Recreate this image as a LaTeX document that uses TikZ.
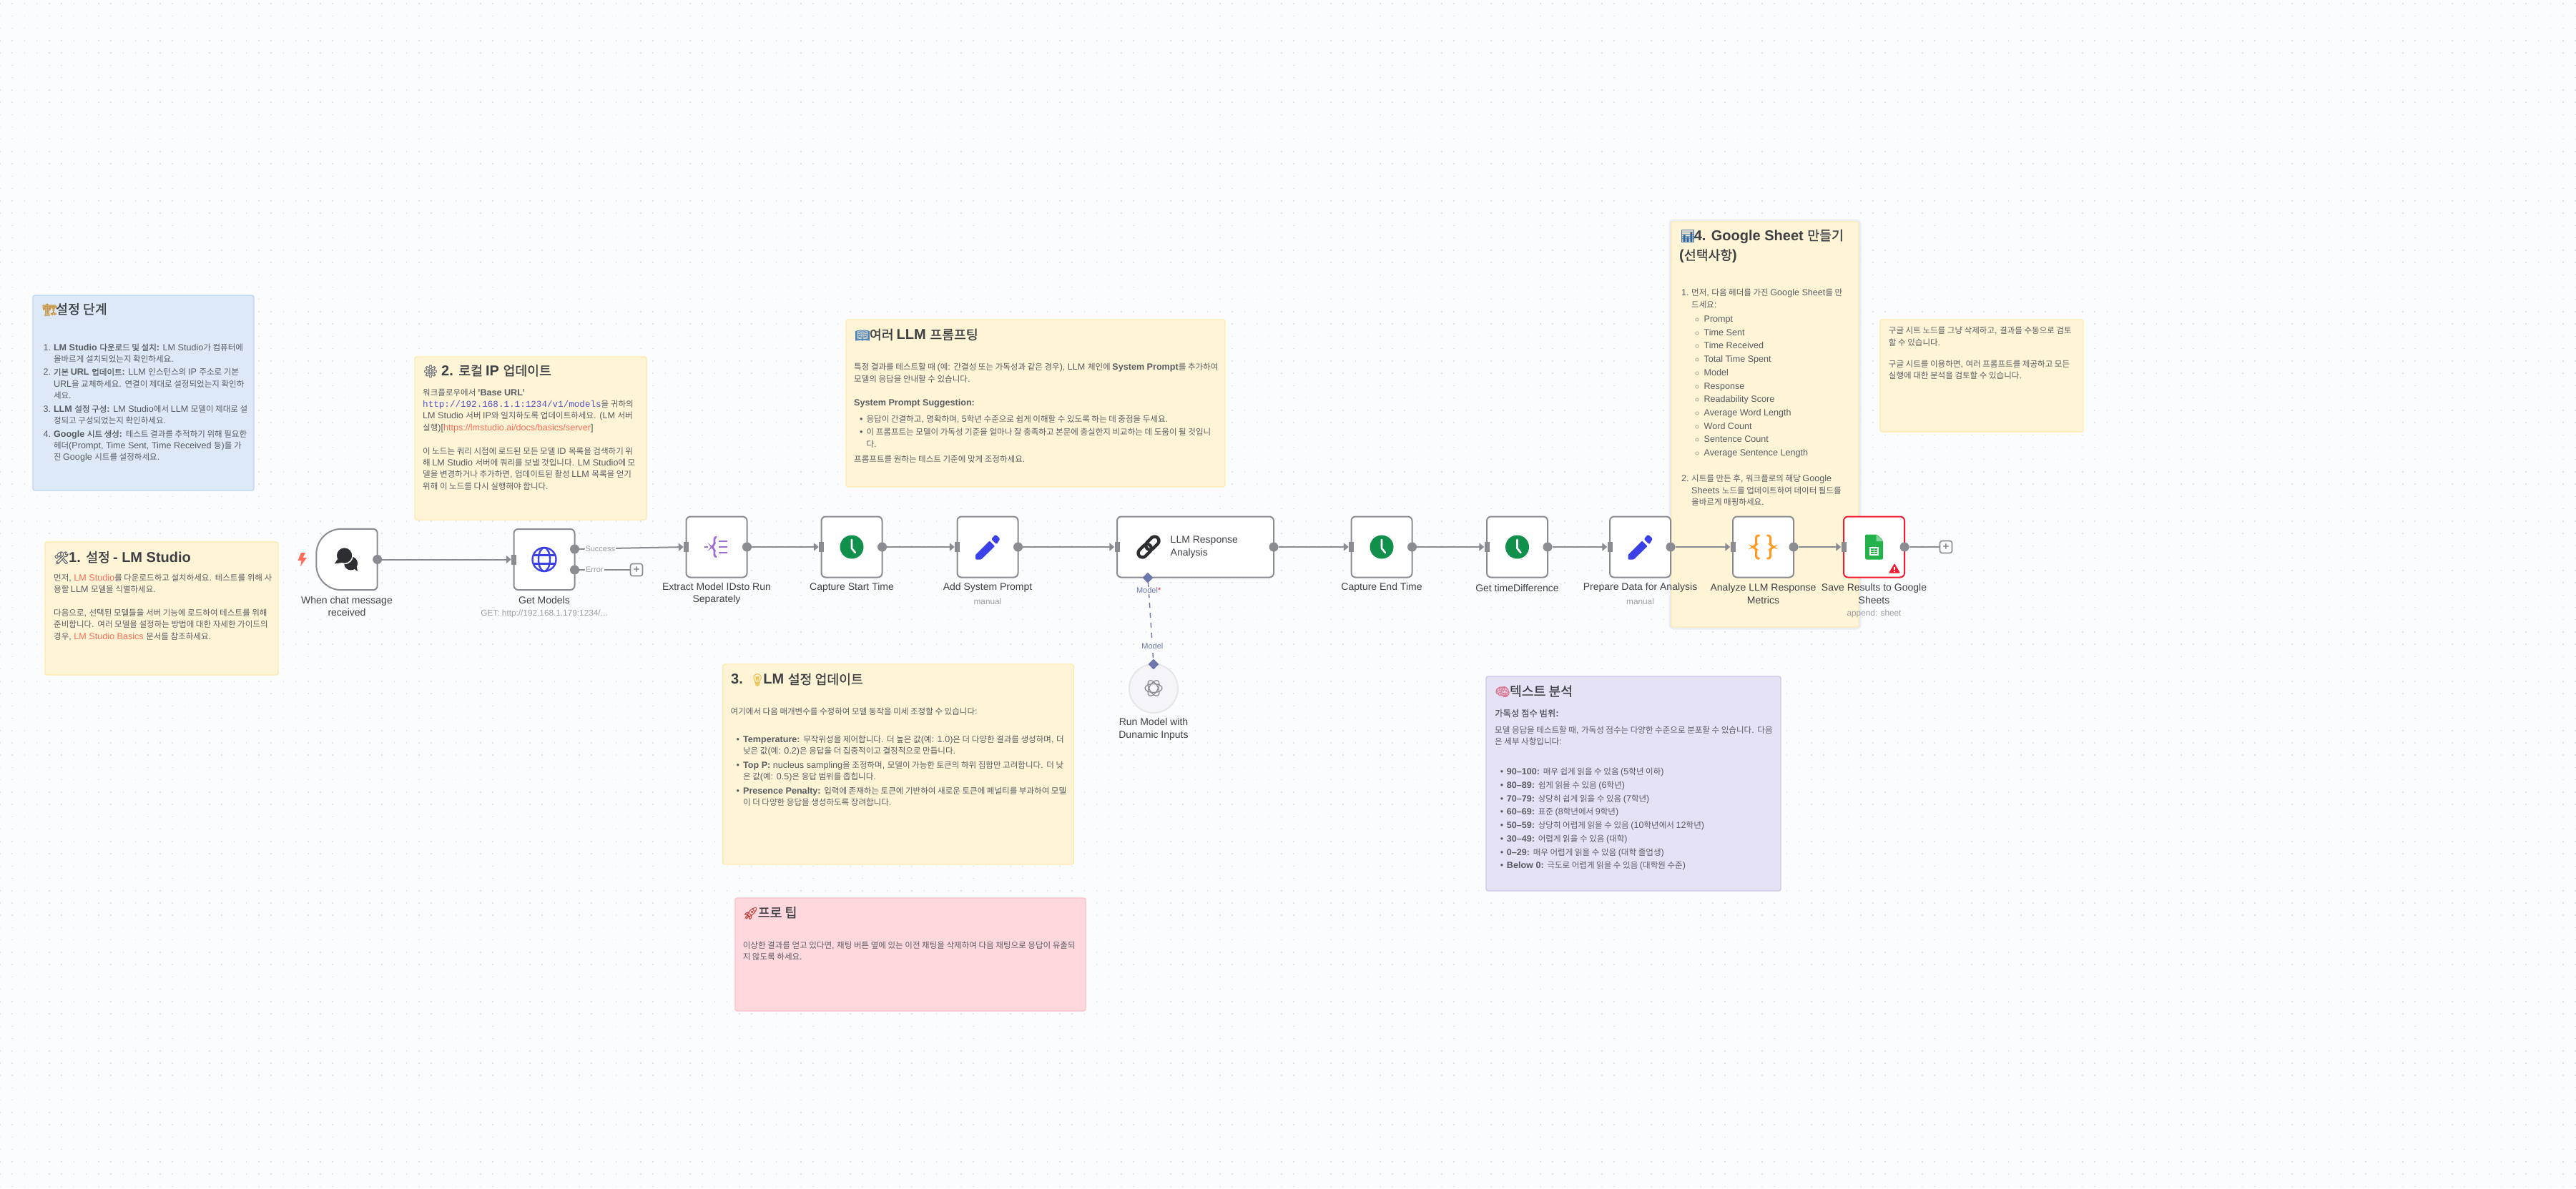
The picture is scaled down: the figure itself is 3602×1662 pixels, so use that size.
\documentclass[tikz,border=0pt]{standalone}
\usepackage{fontspec}
\usetikzlibrary{arrows.meta,shapes.geometric}
\setmainfont{Liberation Sans}
\setmonofont{Liberation Mono}
\newfontfamily\krf[Scale=0.915,BoldFont={Noto Sans CJK KR},BoldFeatures={FakeBold=0.8}]{Noto Sans CJK KR}
\newfontfamily\emof[FakeBold=1.2]{Noto Emoji}
\newXeTeXintercharclass\krclass
\newcount\kc
\kc="AC00
\loop \XeTeXcharclass\kc=\krclass \ifnum\kc<"D7A3 \advance\kc by 1 \repeat
\XeTeXinterchartoks 0 \krclass={\krf}
\XeTeXinterchartoks 4095 \krclass={\krf}
\XeTeXinterchartoks \krclass 0={\rmfamily}
\XeTeXinterchartoks 4095 0={\rmfamily}
\XeTeXinterchartokenstate=1
\definecolor{bgc}{HTML}{FBFCFE}
\definecolor{dotc}{HTML}{DDE1E8}
\definecolor{yelf}{HTML}{FFF5D6}
\definecolor{yeld}{HTML}{FFE9AE}
\definecolor{bluf}{HTML}{DDE9F7}
\definecolor{blud}{HTML}{BDD7F3}
\definecolor{redf}{HTML}{FFD8DD}
\definecolor{redd}{HTML}{FFBFC7}
\definecolor{purf}{HTML}{E6E2F6}
\definecolor{purd}{HTML}{CBC6EB}
\definecolor{halo}{HTML}{E8EDF8}
\definecolor{ttlc}{HTML}{3C3F44}
\definecolor{txtc}{HTML}{585C63}
\definecolor{lblc}{HTML}{3F4246}
\definecolor{subc}{HTML}{9A9DA3}
\definecolor{edge}{HTML}{8A8C92}
\definecolor{linkc}{HTML}{FF6D5A}
\definecolor{urlc}{HTML}{5050C8}
\definecolor{blueic}{HTML}{3B41E8}
\definecolor{greenic}{HTML}{11904B}
\definecolor{purpic}{HTML}{9B6DD6}
\definecolor{oranic}{HTML}{FF9922}
\definecolor{sheetg}{HTML}{24B34B}
\definecolor{warnr}{HTML}{EE1C30}
\definecolor{modc}{HTML}{6E77AD}
\definecolor{emcrane}{HTML}{C9923A}
\definecolor{emtool}{HTML}{5B6270}
\definecolor{emgear}{HTML}{5F6775}
\definecolor{embook}{HTML}{4A7FB8}
\definecolor{embulb}{HTML}{EBC04F}
\definecolor{emrock}{HTML}{C8473D}
\definecolor{emchart}{HTML}{2F62A0}
\definecolor{embrain}{HTML}{E0708A}
\newcommand\emo[3]{\makebox[#1][l]{{\XeTeXinterchartokenstate=0 \fontsize{17}{17}\selectfont\mdseries\emof\color{#2}#3}}}
\newcommand\mono[1]{{\XeTeXinterchartokenstate=0 \ttfamily\color{urlc}#1}}
\newcommand\lk[1]{{\color{linkc}#1}}
\newcommand\hng[2]{\makebox[#1][l]{#2}}
\newcommand\TB[5][]{\node[bodytxt,anchor=north west,#1] (#2) at (#3,#4-7.5) {\strut #5};}
\newcommand\TT[4]{\node[ttl,anchor=west] (#1) at (#2,#3) {#4};}
\newcommand\iconclock[2]{\begin{scope}[shift={(#1,#2)}]
  \fill[greenic] (0,0) ellipse (16.5 and 16.5);
  \draw[white,line width=2.6pt,line cap=round,line join=round] (0,-10) -- (0,2) -- (5,8);
\end{scope}}
\newcommand\iconpen[2]{\begin{scope}[shift={(#1,#2)}]
  \fill[blueic,rounded corners=1pt] (-17,11) -- (2.5,-8.5) -- (10,-1) -- (-9,17.5) -- (-17,17.5) -- cycle;
  \fill[blueic,rounded corners=1.5pt] (5,-11) -- (11,-17.5) -- (17.5,-11.5) -- (12.5,-3.5) -- cycle;
\end{scope}}
\tikzset{
  nbox/.style={draw=edge,fill=white,line width=2pt,rounded corners=6pt,inner sep=0pt,outer sep=0pt,minimum width=85pt,minimum height=85pt},
  oport/.style={circle,fill=edge,inner sep=0pt,minimum size=13pt},
  iport/.style={rectangle,fill=edge,inner sep=0pt,minimum width=7pt,minimum height=14pt},
  conn/.style={draw=edge,line width=2pt,-{Triangle[length=7pt,width=11pt]}},
  plain/.style={draw=edge,line width=2pt},
  lbl/.style={font=\fontsize{14}{17.4}\selectfont,text=lblc,align=center,inner sep=0pt},
  sublbl/.style={font=\fontsize{11.8}{14}\selectfont,text=subc,align=center,inner sep=0pt},
  portlbl/.style={font=\fontsize{11}{13}\selectfont,text=subc,fill=bgc,inner sep=1pt},
  plusbox/.style={draw=edge,fill=bgc,line width=1.6pt,rounded corners=3pt,minimum size=17pt,inner sep=0pt,text=edge,font=\fontsize{15}{15}\selectfont\bfseries},
  notebase/.style={anchor=north west,rounded corners=3pt,line width=1.4pt,inner sep=0pt,outer sep=0pt},
  yelnote/.style={notebase,fill=yelf,draw=yeld},
  blunote/.style={notebase,fill=bluf,draw=blud},
  rednote/.style={notebase,fill=redf,draw=redd},
  purnote/.style={notebase,fill=purf,draw=purd},
  ttl/.style={font=\fontsize{20}{27.5}\selectfont\bfseries,text=ttlc,align=left,inner sep=0pt},
  bodytxt/.style={font=\fontsize{12.6}{16.4}\selectfont,text=txtc,align=left,inner sep=0pt},
  dia/.style={diamond,fill=modc,inner sep=0pt,minimum size=15pt},
  mconn/.style={draw=modc,line width=1.5pt,dash pattern=on 7pt off 7pt},
  modlbl/.style={font=\fontsize{11}{13}\selectfont,text=modc,fill=bgc,inner sep=1pt},
}
\begin{document}
\begin{tikzpicture}[x=1pt,y=-1pt]
\useasboundingbox (0,0) rectangle (3602,1662);
\fill[bgc] (0,0) rectangle (3602,1662);
\foreach \yy in {0,...,96}{
  \draw[dotc,line width=1.5pt,dash pattern=on 1.5pt off 15.73pt,dash phase=0.75pt] (0,{5.2+\yy*17.23}) -- (3602,{5.2+\yy*17.23});
}
% ---------- notes
\node[blunote,minimum width=309pt,minimum height=273pt] (nblue) at (46,413) {};
\node[yelnote,minimum width=326pt,minimum height=186pt] (nyone) at (63,758) {};
\node[yelnote,minimum width=324pt,minimum height=228pt] (nytwo) at (580,499) {};
\node[yelnote,minimum width=530pt,minimum height=234pt] (nprom) at (1183,447) {};
\node[yelnote,minimum width=490.5pt,minimum height=280pt] (nthr) at (1010.7,929) {};
\node[rednote,minimum width=490pt,minimum height=158pt] (npro) at (1028,1256) {};
\node[purnote,minimum width=412pt,minimum height=300pt] (npur) at (2078,946) {};
\node[yelnote,minimum width=284pt,minimum height=157pt] (nrig) at (2629,447) {};
\node[yelnote,preaction={draw=halo,line width=7pt},minimum width=262pt,minimum height=567pt] (nfou) at (2337,310) {};
% ---------- note texts
\TT{tblue}{59}{433}{\emo{19pt}{emcrane}{🏗}설정 단계}
\TB{bblue}{60.4}{486}{\hng{14.4pt}{1.}\textbf{LM Studio 다운로드 및 설치:} LM Studio가 컴퓨터에\\
\hng{14.4pt}{}올바르게 설치되었는지 확인하세요.\\[1.8pt]
\hng{14.4pt}{2.}\textbf{기본 URL 업데이트:} LLM 인스턴스의 IP 주소로 기본\\
\hng{14.4pt}{}URL을 교체하세요. 연결이 제대로 설정되었는지 확인하\\
\hng{14.4pt}{}세요.\\[2.2pt]
\hng{14.4pt}{3.}\textbf{LLM 설정 구성:} LM Studio에서 LLM 모델이 제대로 설\\
\hng{14.4pt}{}정되고 구성되었는지 확인하세요.\\[2.2pt]
\hng{14.4pt}{4.}\textbf{Google 시트 생성:} 테스트 결과를 추적하기 위해 필요한\\
\hng{14.4pt}{}헤더(Prompt, Time Sent, Time Received 등)를 가\\
\hng{14.4pt}{}진 Google 시트를 설정하세요.}
\TT{tone}{75}{780}{\emo{21pt}{emtool}{🛠}1. 설정 - LM Studio}
\TB{bone}{75}{808}{먼저, \lk{LM Studio}를 다운로드하고 설치하세요. 테스트를 위해 사\\
용할 LLM 모델을 식별하세요.\\[16.4pt]
다음으로, 선택된 모델들을 서버 기능에 로드하여 테스트를 위해\\
준비합니다. 여러 모델을 설정하는 방법에 대한 자세한 가이드의\\
경우, \lk{LM Studio Basics} 문서를 참조하세요.}
\TT{ttwo}{591}{519}{\emo{26pt}{emgear}{⚙}2. 로컬 IP 업데이트}
\TB{btwo}{591}{549}{워크플로우에서 \textbf{'Base URL'}\\
\mono{http://192.168.1.1:1234/v1/models}을 귀하의\\
LM Studio 서버 IP와 일치하도록 업데이트하세요. (LM 서버\\
실행)[\lk{https://lmstudio.ai/docs/basics/server}]\\[16.4pt]
이 노드는 쿼리 시점에 로드된 모든 모델 ID 목록을 검색하기 위\\
해 LM Studio 서버에 쿼리를 보낼 것입니다. LM Studio에 모\\
델을 변경하거나 추가하면, 업데이트된 활성 LLM 목록을 얻기\\
위해 이 노드를 다시 실행해야 합니다.}
\TT{tprom}{1195}{468}{\emo{20.7pt}{embook}{📖}여러 LLM 프롬프팅}
\TB{bprom}{1194}{513.7}{특정 결과를 테스트할 때 (예: 간결성 또는 가독성과 같은 경우), LLM 체인에 \textbf{System Prompt}를 추가하여\\
모델의 응답을 안내할 수 있습니다.\\[16.4pt]
\textbf{System Prompt Suggestion:}\\[7pt]
\hng{8pt}{}\hng{9.4pt}{•}응답이 간결하고, 명확하며, 5학년 수준으로 쉽게 이해할 수 있도록 하는 데 중점을 두세요.\\[2pt]
\hng{8pt}{}\hng{9.4pt}{•}이 프롬프트는 모델이 가독성 기준을 얼마나 잘 충족하고 본문에 충실한지 비교하는 데 도움이 될 것입니\\
\hng{8pt}{}\hng{9.4pt}{}다.\\[5pt]
프롬프트를 원하는 테스트 기준에 맞게 조정하세요.}
\TT{tthr}{1022}{950.7}{3. \hspace{2pt}\emo{19pt}{embulb}{💡}LM 설정 업데이트}
\TB{bthr}{1021.5}{995}{여기에서 다음 매개변수를 수정하여 모델 동작을 미세 조정할 수 있습니다:\\[23pt]
\hng{8pt}{}\hng{9.4pt}{•}\textbf{Temperature:} 무작위성을 제어합니다. 더 높은 값(예: 1.0)은 더 다양한 결과를 생성하며, 더\\
\hng{8pt}{}\hng{9.4pt}{}낮은 값(예: 0.2)은 응답을 더 집중적이고 결정적으로 만듭니다.\\[3pt]
\hng{8pt}{}\hng{9.4pt}{•}\textbf{Top P:} nucleus sampling을 조정하며, 모델이 가능한 토큰의 하위 집합만 고려합니다. 더 낮\\
\hng{8pt}{}\hng{9.4pt}{}은 값(예: 0.5)은 응답 범위를 좁힙니다.\\[3pt]
\hng{8pt}{}\hng{9.4pt}{•}\textbf{Presence Penalty:} 입력에 존재하는 토큰에 기반하여 새로운 토큰에 페널티를 부과하여 모델\\
\hng{8pt}{}\hng{9.4pt}{}이 더 다양한 응답을 생성하도록 장려합니다.}
\TT{tpro}{1038.6}{1277}{\emo{21pt}{emrock}{🚀}프로 팁}
\TB{bpro}{1038.6}{1322}{이상한 결과를 얻고 있다면, 채팅 버튼 옆에 있는 이전 채팅을 삭제하여 다음 채팅으로 응답이 유출되\\
지 않도록 하세요.}
\TT{tpur}{2090}{966.7}{\emo{20.7pt}{embrain}{🧠}텍스트 분석}
\TB{bpurh}{2090}{998}{\textbf{\fontsize{13.5}{16}\selectfont 가독성 점수 범위:}}
\TB{bpur}{2090}{1021}{모델 응답을 테스트할 때, 가독성 점수는 다양한 수준으로 분포할 수 있습니다. 다음\\
은 세부 사항입니다:}
\TB[font=\fontsize{12.6}{18.75}\selectfont]{lpur}{2097.7}{1077.7}{\hng{9pt}{•}\textbf{90–100:} 매우 쉽게 읽을 수 있음 (5학년 이하)\\
\hng{9pt}{•}\textbf{80–89:} 쉽게 읽을 수 있음 (6학년)\\
\hng{9pt}{•}\textbf{70–79:} 상당히 쉽게 읽을 수 있음 (7학년)\\
\hng{9pt}{•}\textbf{60–69:} 표준 (8학년에서 9학년)\\
\hng{9pt}{•}\textbf{50–59:} 상당히 어렵게 읽을 수 있음 (10학년에서 12학년)\\
\hng{9pt}{•}\textbf{30–49:} 어렵게 읽을 수 있음 (대학)\\
\hng{9pt}{•}\textbf{0–29:} 매우 어렵게 읽을 수 있음 (대학 졸업생)\\
\hng{9pt}{•}\textbf{Below 0:} 극도로 어렵게 읽을 수 있음 (대학원 수준)}
\TT{tfou}{2349}{330.6}{\emo{19.6pt}{emchart}{📊}4. Google Sheet 만들기}
\TT{tfoub}{2348}{358}{(선택사항)}
\TB{bfoua}{2351}{409.8}{\hng{14pt}{1.}먼저, 다음 헤더를 가진 Google Sheet를 만\\
\hng{14pt}{}드세요:}
\TB[font=\fontsize{12.6}{18.72}\selectfont]{lfou}{2370}{444.6}{\hng{12.4pt}{$\circ$}Prompt\\
\hng{12.4pt}{$\circ$}Time Sent\\
\hng{12.4pt}{$\circ$}Time Received\\
\hng{12.4pt}{$\circ$}Total Time Spent\\
\hng{12.4pt}{$\circ$}Model\\
\hng{12.4pt}{$\circ$}Response\\
\hng{12.4pt}{$\circ$}Readability Score\\
\hng{12.4pt}{$\circ$}Average Word Length\\
\hng{12.4pt}{$\circ$}Word Count\\
\hng{12.4pt}{$\circ$}Sentence Count\\
\hng{12.4pt}{$\circ$}Average Sentence Length}
\TB{bfoub}{2351}{669.5}{\hng{14pt}{2.}시트를 만든 후, 워크플로의 해당 Google\\
\hng{14pt}{}Sheets 노드를 업데이트하여 데이터 필드를\\
\hng{14pt}{}올바르게 매핑하세요.}
\TB{brig}{2640.7}{462.5}{구글 시트 노드를 그냥 삭제하고, 결과를 수동으로 검토\\
할 수 있습니다.\\[14pt]
구글 시트를 이용하면, 여러 프롬프트를 제공하고 모든\\
실행에 대한 분석을 검토할 수 있습니다.}
% ---------- workflow nodes
\node[inner sep=0pt,minimum width=85pt,minimum height=85pt] (chat) at (485,782.5) {};
\draw[draw=edge,fill=white,line width=2pt,line join=round,line cap=round]
  [rounded corners=6pt] (chat.north) -- (chat.north east) -- (chat.south east) -- (chat.south)
  [rounded corners=35pt] -- (chat.south west) -- (chat.north west) -- (chat.north);
\node[nbox] (gm) at (761,782.5) {};
\node[nbox] (ext) at (1002,765) {};
\node[nbox] (cst) at (1191,765) {};
\node[nbox] (asp) at (1381,765) {};
\node[nbox,minimum width=219pt] (llm) at (1671.5,765) {};
\node[nbox] (cet) at (1932,765) {};
\node[nbox] (gtd) at (2121.5,765) {};
\node[nbox] (pda) at (2293.5,765) {};
\node[nbox] (ana) at (2465.5,765) {};
\node[nbox,draw=warnr] (sav) at (2620.5,765) {};
\node[circle,draw=white!78!edge,fill=white!93!modc,line width=2pt,minimum size=68pt,inner sep=0pt] (run) at (1613,963) {};
% ---------- ports
\node[oport] (chato) at (chat.east) {};
\node[iport] (gmi) at (gm.west) {};
\node[oport] (gmos) at (803.5,768) {};
\node[oport] (gmoe) at (803.5,797) {};
\node[iport] (exti) at (ext.west) {};
\node[oport] (exto) at (ext.east) {};
\node[iport] (csti) at (cst.west) {};
\node[oport] (csto) at (cst.east) {};
\node[iport] (aspi) at (asp.west) {};
\node[oport] (aspo) at (asp.east) {};
\node[iport] (llmi) at (llm.west) {};
\node[oport] (llmo) at (llm.east) {};
\node[iport] (ceti) at (cet.west) {};
\node[oport] (ceto) at (cet.east) {};
\node[iport] (gtdi) at (gtd.west) {};
\node[oport] (gtdo) at (gtd.east) {};
\node[iport] (pdai) at (pda.west) {};
\node[oport] (pdao) at (pda.east) {};
\node[iport] (anai) at (ana.west) {};
\node[oport] (anao) at (ana.east) {};
\node[iport] (savi) at (sav.west) {};
\node[oport] (savo) at (sav.east) {};
\node[plusbox] (plusa) at (890,797) {+};
\node[plusbox] (plusb) at (2721,765) {+};
\node[dia] (llmm) at (1605,808) {};
\node[dia] (runm) at (1613,929) {};
% ---------- connectors
\draw[conn] (chato) -- (gmi);
\draw[conn] (gmos) -- node[portlbl,pos=0.2] (ls) {Success} (exti);
\draw[plain] (gmoe) -- node[portlbl,pos=0.3] (le) {Error} (plusa);
\draw[conn] (exto) -- (csti);
\draw[conn] (csto) -- (aspi);
\draw[conn] (aspo) -- (llmi);
\draw[conn] (llmo) -- (ceti);
\draw[conn] (ceto) -- (gtdi);
\draw[conn] (gtdo) -- (pdai);
\draw[conn] (pdao) -- (anai);
\draw[conn] (anao) -- (savi);
\draw[plain] (savo) -- (plusb);
\draw[mconn] (llmm) -- node[modlbl,pos=0.1] (lma) {Model{\color{warnr}*}} node[modlbl,pos=0.83] (lmb) {Model} (runm);
% ---------- labels
\node[lbl] (lchat) at (485,848) {When chat message\\received};
\node[lbl] (lgm) at (761,839) {Get Models};
\node[sublbl] (sgm) at (761,858) {GET: http://192.168.1.179:1234/...};
\node[lbl] (lext) at (1002,830.5) {Extract Model IDsto Run\\Separately};
\node[lbl] (lcst) at (1191,822) {Capture Start Time};
\node[lbl] (lasp) at (1381,822) {Add System Prompt};
\node[sublbl] (sasp) at (1381,841) {manual};
\node[lbl,anchor=west,align=left,font=\fontsize{14}{18}\selectfont] (lllm) at (1636.5,765.5) {LLM Response\\Analysis};
\node[lbl] (lcet) at (1932,822) {Capture End Time};
\node[lbl] (lgtd) at (2121.5,822) {Get timeDifference};
\node[lbl] (lpda) at (2293.5,822) {Prepare Data for Analysis};
\node[sublbl] (spda) at (2293.5,841) {manual};
\node[lbl] (lana) at (2465.5,830.5) {Analyze LLM Response\\Metrics};
\node[lbl] (lsav) at (2620.5,830.5) {Save Results to Google\\Sheets};
\node[sublbl] (ssav) at (2620.5,858) {append: sheet};
\node[lbl] (lrun) at (1613,1020) {Run Model with\\Dunamic Inputs};
% ---------- icons
\fill[linkc] (421,773) -- (416.5,784) -- (421.5,784) -- (420,792) -- (429,780) -- (423.5,780) -- (427,773) -- cycle;
% chat
\fill[lblc!70!black] (490.6,788) circle (9.5);
\fill[lblc!70!black] (493,794) -- (500,799) -- (498,789) -- cycle;
\fill[lblc!70!black,draw=white,line width=1.5pt] (481.6,777) circle (11.5);
\fill[lblc!70!black] (472,782) -- (468,788.5) -- (478,787) -- cycle;
% globe
\begin{scope}[shift={(761,782.5)},draw=blueic,line width=2.4pt]
  \draw (0,0) circle (16.5);
  \draw (0,0) ellipse (8 and 16.5);
  \draw (-15,-6) -- (15,-6);
  \draw (-15,6) -- (15,6);
\end{scope}
% split out
\begin{scope}[shift={(1002,765)},draw=purpic,line width=2.6pt]
  \draw (-17,0) -- (-12,0);
  \draw[rounded corners=3pt] (0,-14) -- (-3,-14) -- (-3,-3) -- (-7,0) -- (-3,3) -- (-3,14) -- (0,14);
  \draw (3,-8) -- (15,-8);
  \draw (3,0) -- (15,0);
  \draw (3,8) -- (15,8);
\end{scope}
\iconclock{1191}{765}
\iconclock{1932}{765}
\iconclock{2121.5}{765}
\iconpen{1381}{765}
\iconpen{2293.5}{765}
% chain
\begin{scope}[shift={(1606,765)},rotate=45,line width=4.4pt]
  \draw[lblc!70!black,rounded corners=6pt] (-18,-6) rectangle (3,6);
  \draw[white,line width=7pt] (-3,-3) -- (-3,3);
  \draw[lblc!70!black,rounded corners=6pt] (-3,-6) rectangle (18,6);
\end{scope}
% braces
\begin{scope}[shift={(2465.5,765)},draw=oranic,line width=3pt,line cap=round]
  \draw[rounded corners=3pt] (-6,-16) -- (-10,-16) -- (-10,-2) -- (-15.5,0) -- (-10,2) -- (-10,16) -- (-6,16);
  \draw[rounded corners=3pt] (6,-16) -- (10,-16) -- (10,-2) -- (15.5,0) -- (10,2) -- (10,16) -- (6,16);
\end{scope}
% sheet
\begin{scope}[shift={(2620.5,765)}]
  \fill[sheetg,rounded corners=1.5pt] (-12.5,-17.5) -- (4,-17.5) -- (12.5,-9) -- (12.5,17.5) -- (-12.5,17.5) -- cycle;
  \fill[sheetg!55!white] (3,-17.5) -- (12.5,-8) -- (3,-8) -- cycle;
  \draw[white,line width=1.1pt] (-5.5,1) rectangle (5.5,11);
  \draw[white,line width=1.1pt] (-5.5,4.3) -- (5.5,4.3) (-5.5,7.6) -- (5.5,7.6) (0,1) -- (0,11);
\end{scope}
% warning
\begin{scope}[shift={(2649,795)}]
  \fill[warnr,rounded corners=1pt] (0,-7) -- (8,6.5) -- (-8,6.5) -- cycle;
  \draw[white,line width=1.8pt] (0,-2.5) -- (0,2);
  \fill[white] (0,4.4) circle (1);
\end{scope}
% model knot
\begin{scope}[shift={(1613,962.5)},draw=edge,line width=1.3pt]
  \draw[rotate=0] (0,0) ellipse (12 and 6);
  \draw[rotate=60] (0,0) ellipse (12 and 6);
  \draw[rotate=120] (0,0) ellipse (12 and 6);
\end{scope}
\end{tikzpicture}
\end{document}
